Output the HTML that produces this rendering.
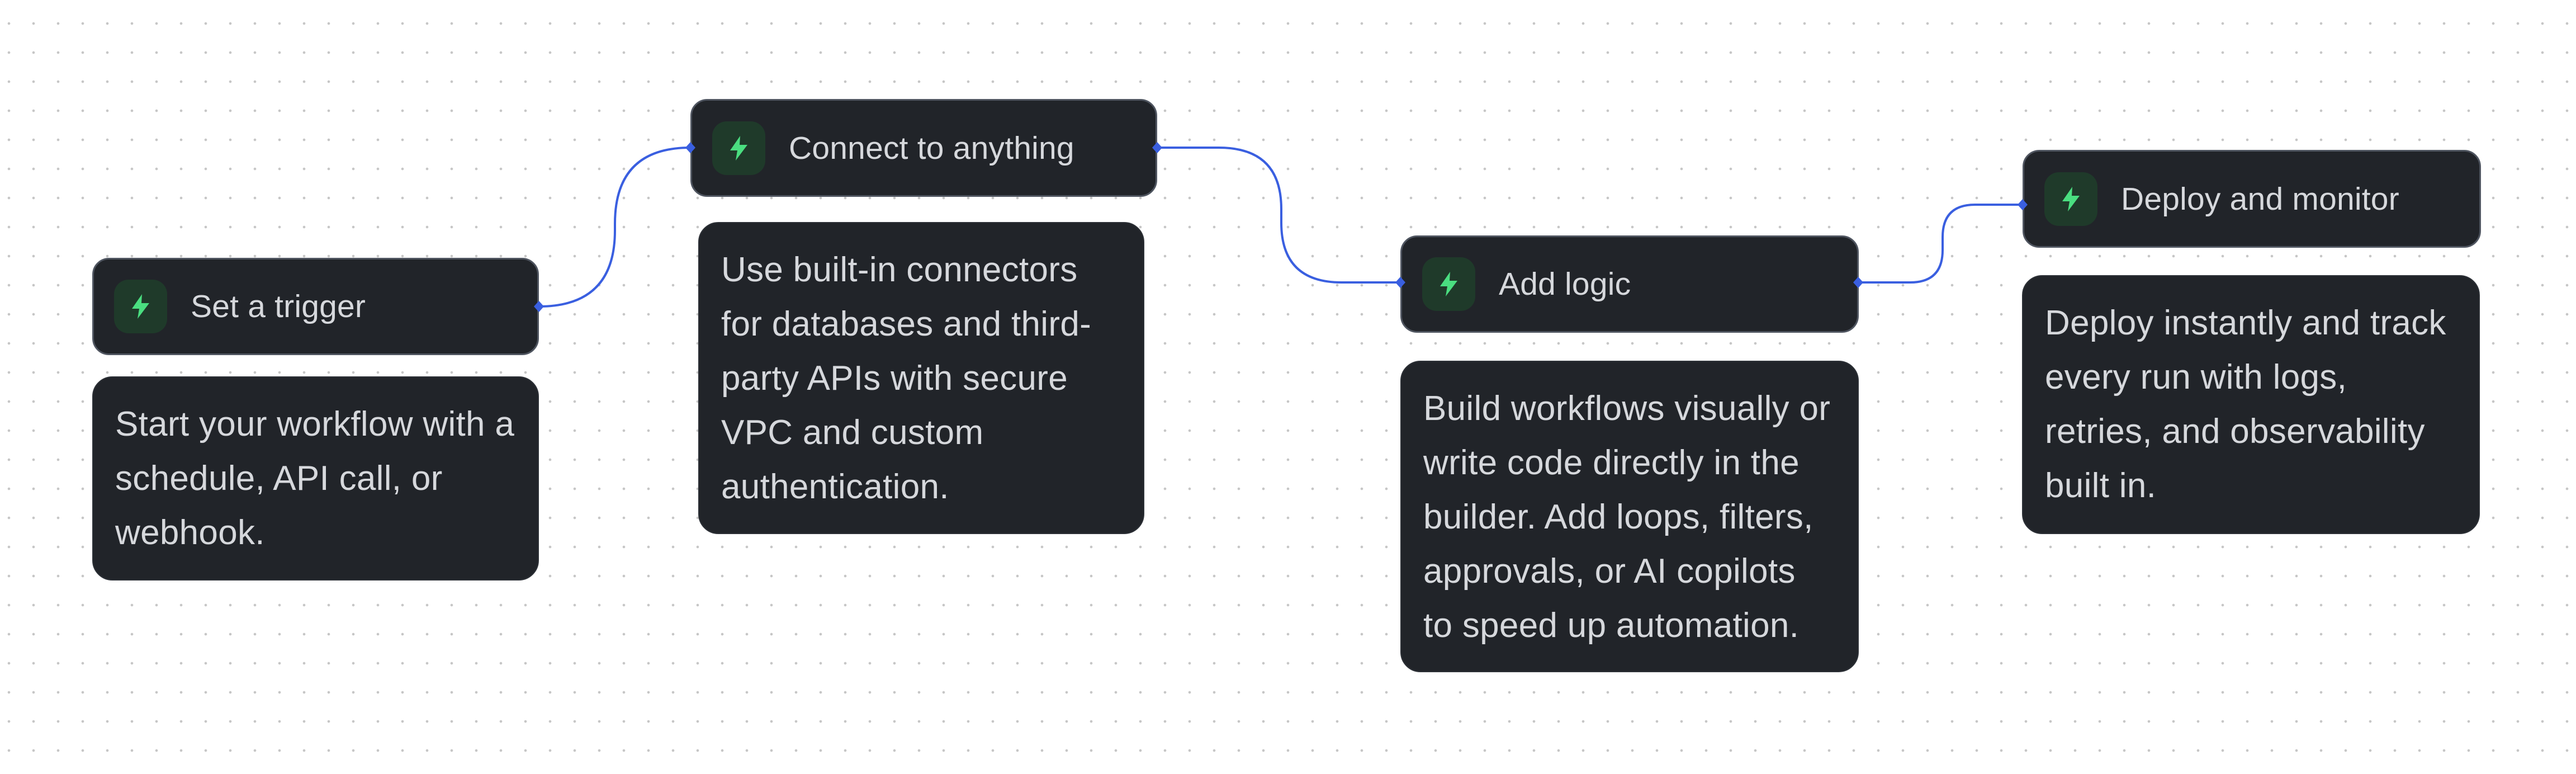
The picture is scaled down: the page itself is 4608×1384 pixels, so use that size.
<!DOCTYPE html>
<html><head><meta charset="utf-8"><style>
html,body{margin:0;padding:0}
body{width:4608px;height:1384px;position:relative;overflow:hidden;background:#fff;
background-image:radial-gradient(circle,#c6c6c6 2px,transparent 2.6px);background-size:44px 52px;background-position:-6px 16px;
font-family:"Liberation Sans",sans-serif}
.h{position:absolute;background:#212429;border:3px solid #4f5560;border-radius:30px;box-sizing:border-box}
.h .ic{position:absolute;left:36px;top:50%;margin-top:-48px;width:95px;height:96px;border-radius:26px;background:#1f3a2a}
.h .ic svg{position:absolute;left:30px;top:26px}
.h .t{position:absolute;left:173px;top:50%;transform:translateY(-50%);color:#d6d8dc;font-size:57px;letter-spacing:0.2px;white-space:nowrap}
.d{position:absolute;background:#212429;border:2px solid #2c3036;border-radius:36px;box-sizing:border-box;color:#d6d8dc;font-size:62px;line-height:97px;letter-spacing:0.3px;padding:35px 0 0 39px;white-space:nowrap}
svg.c{position:absolute;left:0;top:0}
</style></head><body>
<svg class="c" width="4608" height="1384">
<g fill="none" stroke="#3a5fe0" stroke-width="4">
<path d="M964,548 Q1100,548 1100,412 L1100,400 Q1100,264 1235,264"/>
<path d="M2070,264 L2180,264 Q2292,264 2292,374 L2292,398 Q2292,505 2400,505 L2505,505"/>
<path d="M3324,505 L3417,505 Q3475,505 3475,447 L3475,424 Q3475,366 3533,366 L3618,366"/>
</g>
</svg>
<div class="h" style="left:165px;top:461px;width:799px;height:174px"><div class="ic"><svg width="35" height="44" viewBox="0 0 35 44"><path d="M20 0 L2 26 L15 26 L12 44 L33 16 L19 16 Z" fill="#4ade80"/></svg></div><div class="t">Set a trigger</div></div>
<div class="d" style="left:165px;top:673px;width:799px;height:365px">Start your workflow with a<br>schedule, API call, or<br>webhook.</div>

<div class="h" style="left:1235px;top:177px;width:835px;height:175px"><div class="ic"><svg width="35" height="44" viewBox="0 0 35 44"><path d="M20 0 L2 26 L15 26 L12 44 L33 16 L19 16 Z" fill="#4ade80"/></svg></div><div class="t">Connect to anything</div></div>
<div class="d" style="left:1249px;top:397px;width:798px;height:558px">Use built-in connectors<br>for databases and third-<br>party APIs with secure<br>VPC and custom<br>authentication.</div>

<div class="h" style="left:2505px;top:421px;width:820px;height:174px"><div class="ic"><svg width="35" height="44" viewBox="0 0 35 44"><path d="M20 0 L2 26 L15 26 L12 44 L33 16 L19 16 Z" fill="#4ade80"/></svg></div><div class="t">Add logic</div></div>
<div class="d" style="left:2505px;top:645px;width:820px;height:557px">Build workflows visually or<br>write code directly in the<br>builder. Add loops, filters,<br>approvals, or AI copilots<br>to speed up automation.</div>

<div class="h" style="left:3618px;top:268px;width:820px;height:175px"><div class="ic"><svg width="35" height="44" viewBox="0 0 35 44"><path d="M20 0 L2 26 L15 26 L12 44 L33 16 L19 16 Z" fill="#4ade80"/></svg></div><div class="t">Deploy and monitor</div></div>
<div class="d" style="left:3617px;top:492px;width:819px;height:463px">Deploy instantly and track<br>every run with logs,<br>retries, and observability<br>built in.</div>

<svg class="c" width="4608" height="1384">
<g fill="#3a5fe0">
<path d="M964,538 L973,548 L964,558 L955,548 Z"/>
<path d="M1235,254 L1244,264 L1235,274 L1226,264 Z"/>
<path d="M2070,254 L2079,264 L2070,274 L2061,264 Z"/>
<path d="M2505,495 L2514,505 L2505,515 L2496,505 Z"/>
<path d="M3324,495 L3333,505 L3324,515 L3315,505 Z"/>
<path d="M3618,356 L3627,366 L3618,376 L3609,366 Z"/>
</g>
</svg>
</body></html>
